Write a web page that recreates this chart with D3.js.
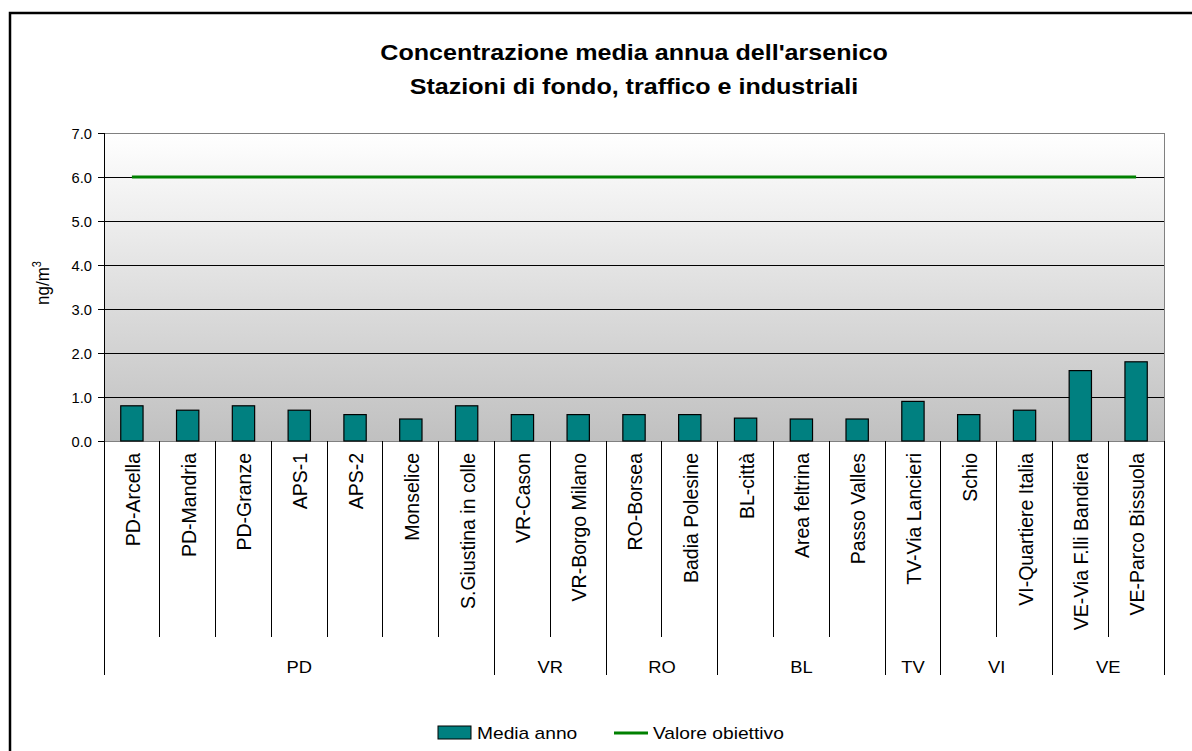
<!DOCTYPE html>
<html>
<head>
<meta charset="utf-8">
<script src="https://cdn.jsdelivr.net/npm/d3@7"></script>
<style>
  body { margin: 0; background: #fff; }
  svg { display: block; font-family: Arial, "Liberation Sans", sans-serif; }
</style>
</head>
<body>
<svg id="chart" width="1192" height="751"></svg>
<script>
const stations = ['PD-Arcella', 'PD-Mandria', 'PD-Granze', 'APS-1', 'APS-2', 'Monselice', 'S.Giustina in colle',
  'VR-Cason', 'VR-Borgo Milano', 'RO-Borsea', 'Badia Polesine', 'BL-città', 'Area feltrina', 'Passo Valles',
  'TV-Via Lancieri', 'Schio', 'VI-Quartiere Italia', 'VE-Via F.lli Bandiera', 'VE-Parco Bissuola'];
const provinces = ['PD', 'PD', 'PD', 'PD', 'PD', 'PD', 'PD', 'VR', 'VR', 'RO', 'RO', 'BL', 'BL', 'BL',
  'TV', 'VI', 'VI', 'VE', 'VE'];
const mediaAnno = [0.8, 0.7, 0.8, 0.7, 0.6, 0.5, 0.8, 0.6, 0.6, 0.6, 0.6, 0.52, 0.5, 0.5, 0.9, 0.6, 0.7, 1.6, 1.8];
const valoreObiettivo = 6.0;
const yTicks = [0, 1, 2, 3, 4, 5, 6, 7];

const svg = d3.select('#chart');
const plotLeft = 104, plotRight = 1164, plotTop = 133, plotBottom = 441;
// the source picture is a bit wider than tall, horizontal text gets stretched
const stretch = 1.2;

const x = d3.scaleBand().domain(stations).range([plotLeft, plotRight]);
const y = d3.scaleLinear().domain([0, 7]).range([plotBottom, plotTop]);

// outer frame
svg.append('rect')
  .attr('x', 10).attr('y', 13).attr('width', 1200).attr('height', 800)
  .attr('fill', 'none').attr('stroke', '#000').attr('stroke-width', 2.5);

// plot background gradient
const grad = svg.append('defs').append('linearGradient')
  .attr('id', 'bg').attr('x1', 0).attr('y1', 0).attr('x2', 0).attr('y2', 1);
grad.append('stop').attr('offset', '0%').attr('stop-color', '#ffffff');
grad.append('stop').attr('offset', '100%').attr('stop-color', '#c0c0c0');

svg.append('rect')
  .attr('x', plotLeft).attr('y', plotTop).attr('width', plotRight - plotLeft).attr('height', plotBottom - plotTop)
  .attr('fill', 'url(#bg)').attr('stroke', '#808080').attr('stroke-width', 1)
  .attr('shape-rendering', 'crispEdges');

// gridlines
svg.append('g').attr('shape-rendering', 'crispEdges').selectAll('line')
  .data(yTicks.filter(d => d > 0 && d < 7))
  .join('line')
  .attr('x1', plotLeft).attr('x2', plotRight)
  .attr('y1', d => y(d)).attr('y2', d => y(d))
  .attr('stroke', '#000').attr('stroke-width', 1);

// y axis
const yAxis = svg.append('g')
  .attr('transform', `translate(${plotLeft},0)`)
  .attr('shape-rendering', 'crispEdges')
  .call(d3.axisLeft(y).tickValues(yTicks).tickFormat(d3.format('.1f')).tickSize(6).tickPadding(0));
yAxis.select('.domain').attr('stroke', '#000');
yAxis.selectAll('.tick line').attr('stroke', '#000');
yAxis.selectAll('.tick text')
  .attr('x', null).attr('dy', null)
  .attr('transform', `translate(-12,5) scale(1.05,1)`)
  .attr('font-size', 14).attr('fill', '#000')
  .attr('font-family', 'Arial, "Liberation Sans", sans-serif');

// y label
const yl = svg.append('text')
  .attr('transform', `translate(49,283) scale(1.1,1) rotate(-90)`)
  .attr('text-anchor', 'middle')
  .attr('font-size', 17).attr('fill', '#000');
yl.append('tspan').text('ng/m');
yl.append('tspan').attr('dy', -7).attr('font-size', 11).text('3');

// bars
const barW = x.bandwidth() * 0.4;
svg.append('g').selectAll('rect')
  .data(stations.map((s, i) => ({ s, v: mediaAnno[i] })))
  .join('rect')
  .attr('x', d => x(d.s) + (x.bandwidth() - barW) / 2)
  .attr('y', d => y(d.v))
  .attr('width', barW)
  .attr('height', d => y(0) - y(d.v))
  .attr('fill', '#008080').attr('stroke', '#000').attr('stroke-width', 1.2);

// target line
svg.append('line')
  .attr('x1', x(stations[0]) + x.bandwidth() / 2)
  .attr('x2', x(stations[stations.length - 1]) + x.bandwidth() / 2)
  .attr('y1', y(valoreObiettivo)).attr('y2', y(valoreObiettivo))
  .attr('stroke', '#008000').attr('stroke-width', 3);

// category separators
const catBottom = 637, grpBottom = 675;
const sepG = svg.append('g').attr('stroke', '#000').attr('stroke-width', 1).attr('shape-rendering', 'crispEdges');
stations.forEach((s, i) => {
  const isGroupEdge = i === 0 || provinces[i] !== provinces[i - 1];
  sepG.append('line')
    .attr('x1', x(s)).attr('x2', x(s))
    .attr('y1', plotBottom).attr('y2', isGroupEdge ? grpBottom : catBottom);
});
sepG.append('line').attr('x1', plotRight).attr('x2', plotRight).attr('y1', plotBottom).attr('y2', grpBottom);

// category labels
svg.append('g').selectAll('text')
  .data(stations)
  .join('text')
  .attr('transform', d => `translate(${x(d) + x.bandwidth() / 2 + 8},453) scale(1.05,1) rotate(-90)`)
  .attr('text-anchor', 'end')
  .attr('font-size', 19.5).attr('fill', '#000')
  .text(d => d);

// group labels
const groups = [];
provinces.forEach((p, i) => {
  if (i === 0 || p !== provinces[i - 1]) groups.push({ p, start: i, end: i });
  else groups[groups.length - 1].end = i;
});
svg.append('g').selectAll('text')
  .data(groups)
  .join('text')
  .attr('transform', d => `translate(${(x(stations[d.start]) + x(stations[d.end]) + x.bandwidth()) / 2},673) scale(1.08,1)`)
  .attr('text-anchor', 'middle')
  .attr('font-size', 17).attr('fill', '#000')
  .text(d => d.p);

// title
const cx = (plotLeft + plotRight) / 2;
svg.append('text')
  .attr('transform', `translate(${cx},60) scale(1.14,1)`)
  .attr('text-anchor', 'middle').attr('font-size', 22).attr('font-weight', 'bold').attr('fill', '#000')
  .text("Concentrazione media annua dell'arsenico");
svg.append('text')
  .attr('transform', `translate(${cx},94) scale(1.14,1)`)
  .attr('text-anchor', 'middle').attr('font-size', 22).attr('font-weight', 'bold').attr('fill', '#000')
  .text('Stazioni di fondo, traffico e industriali');

// legend
const lg = svg.append('g');
lg.append('rect').attr('x', 438).attr('y', 726).attr('width', 33).attr('height', 13)
  .attr('fill', '#008080').attr('stroke', '#000').attr('stroke-width', 1);
lg.append('text').attr('transform', `translate(477,739) scale(${stretch},1)`)
  .attr('font-size', 16).attr('fill', '#000').text('Media anno');
lg.append('line').attr('x1', 614).attr('x2', 648).attr('y1', 733).attr('y2', 733)
  .attr('stroke', '#008000').attr('stroke-width', 3);
lg.append('text').attr('transform', `translate(653,739) scale(${stretch},1)`)
  .attr('font-size', 16).attr('fill', '#000').text('Valore obiettivo');
</script>
</body>
</html>
